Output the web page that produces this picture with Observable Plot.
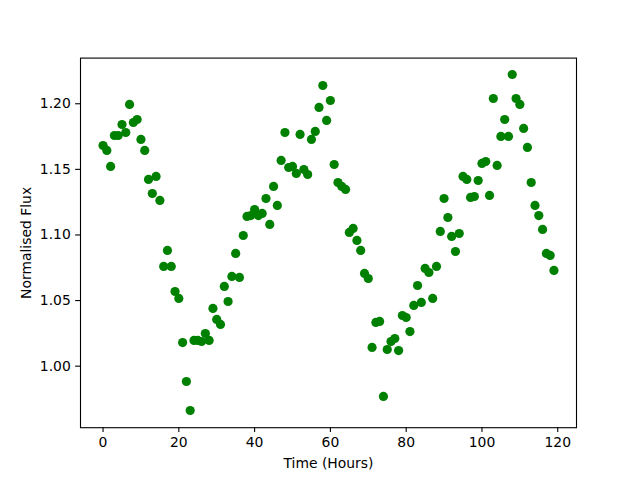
<!DOCTYPE html>
<html>
<head>
<meta charset="utf-8">
<script src="https://cdn.jsdelivr.net/npm/d3@7"></script>
<script src="https://cdn.jsdelivr.net/npm/@observablehq/plot@0.6"></script>
<style>
  html, body { margin: 0; padding: 0; background: #ffffff; }
  #chart svg { display: block; }
</style>
</head>
<body>
<div id="chart"></div>
<script>
const hours = d3.range(0, 120);
const flux = [
  1.1682, 1.1644, 1.1522, 1.1758, 1.1758, 1.1842, 1.1781, 1.1995, 1.1857, 1.1880,
  1.1728, 1.1644, 1.1423, 1.1316, 1.1446, 1.1263, 1.0760, 1.0882, 1.0760, 1.0569,
  1.0516, 1.0180, 0.9883, 0.9662, 1.0196, 1.0196, 1.0188, 1.0249, 1.0196, 1.0440,
  1.0356, 1.0318, 1.0608, 1.0493, 1.0684, 1.0859, 1.0676, 1.0996, 1.1141, 1.1148,
  1.1194, 1.1148, 1.1164, 1.1278, 1.1080, 1.1370, 1.1225, 1.1568, 1.1781, 1.1514,
  1.1522, 1.1469, 1.1766, 1.1499, 1.1461, 1.1728, 1.1789, 1.1972, 1.2139, 1.1873,
  1.2025, 1.1537, 1.1400, 1.1370, 1.1347, 1.1019, 1.1050, 1.0958, 1.0882, 1.0707,
  1.0668, 1.0143, 1.0333, 1.0341, 0.9769, 1.0127, 1.0188, 1.0211, 1.0119, 1.0386,
  1.0371, 1.0264, 1.0463, 1.0615, 1.0486, 1.0745, 1.0714, 1.0516, 1.0760, 1.1027,
  1.1278, 1.1133, 1.0989, 1.0874, 1.1011, 1.1446, 1.1423, 1.1286, 1.1293, 1.1415,
  1.1545, 1.1560, 1.1301, 1.2040, 1.1530, 1.1751, 1.1880, 1.1751, 1.2223, 1.2040,
  1.1995, 1.1812, 1.1667, 1.1400, 1.1225, 1.1148, 1.1042, 1.0859, 1.0844, 1.0730
];
const xTicks = [0, 20, 40, 60, 80, 100, 120];
const yTicks = [1.00, 1.05, 1.10, 1.15, 1.20];
const xLabel = "Time (Hours)";
const yLabel = "Normalised Flux";

const data = hours.map((h, i) => ({hour: h, flux: flux[i]}));

const fontSize = 13.9;
const tick = 4.86;

const chart = Plot.plot({
  width: 640,
  height: 480,
  marginLeft: 80,
  marginRight: 64,
  marginTop: 57.6,
  marginBottom: 52.8,
  style: {
    fontFamily: "DejaVu Sans",
    fontSize: fontSize + "px",
    background: "#ffffff",
    color: "#000000"
  },
  x: {domain: [-5.95, 124.95]},
  y: {domain: [0.9531, 1.2348]},
  marks: [
    Plot.dot(data, {x: "hour", y: "flux", r: 4.6, fill: "#008000", stroke: "none"}),
    Plot.frame({stroke: "#000000", strokeWidth: 1.1}),
    Plot.axisX({
      ticks: xTicks, tickSize: tick, tickPadding: tick, tickFormat: d3.format("d"),
      fontSize: fontSize, label: null, strokeWidth: 1.1, fill: "#000000", stroke: "#000000"
    }),
    Plot.axisY({
      ticks: yTicks, tickSize: tick, tickPadding: tick, tickFormat: d3.format(".2f"),
      fontSize: fontSize, label: null, strokeWidth: 1.1, fill: "#000000", stroke: "#000000"
    }),
    Plot.text([xLabel], {frameAnchor: "bottom", text: d => d, dy: 36, lineAnchor: "middle", fontSize: fontSize, fill: "#000000"}),
    Plot.text([yLabel], {frameAnchor: "left", text: d => d, dx: -54, rotate: -90, lineAnchor: "middle", textAnchor: "middle", fontSize: fontSize, fill: "#000000"})
  ]
});
document.getElementById("chart").appendChild(chart);
</script>
</body>
</html>
